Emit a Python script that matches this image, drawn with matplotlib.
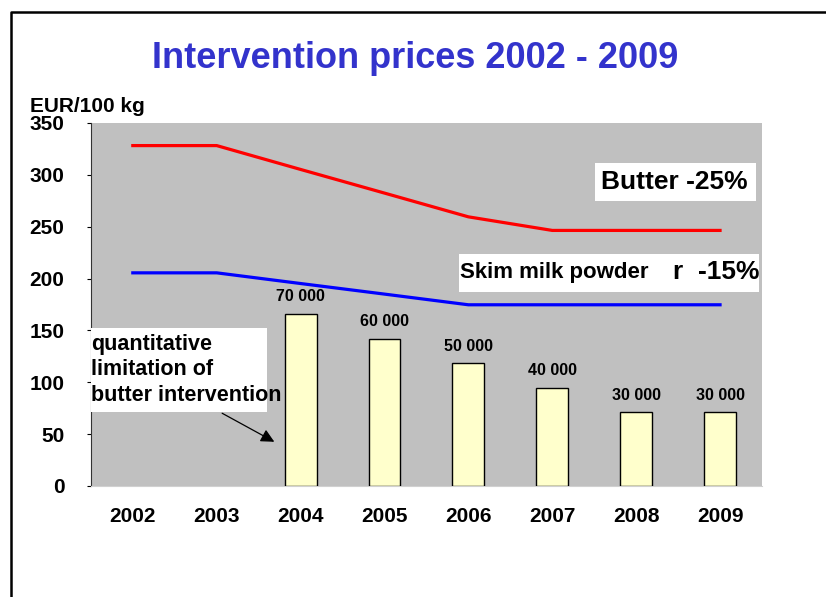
import numpy as np
from matplotlib import pyplot as plt
from matplotlib.lines import Line2D
from matplotlib.patches import Rectangle

plt.rcParams['font.family'] = ['Liberation Sans', 'DejaVu Sans']
plt.rcParams['font.weight'] = 'bold'

years = ['2002', '2003', '2004', '2005', '2006', '2007', '2008', '2009']
butter = [328.2, 328.2, 305.2, 282.4, 259.5, 246.4, 246.4, 246.4]
smp = [205.5, 205.5, 195.2, 185.0, 174.7, 174.7, 174.7, 174.7]
quota_years = ['2004', '2005', '2006', '2007', '2008', '2009']
quota = [70000, 60000, 50000, 40000, 30000, 30000]
quota_labels = ['70 000', '60 000', '50 000', '40 000', '30 000', '30 000']

fig = plt.figure(figsize=(8.26, 5.97), dpi=100)
ax = fig.add_axes([0.110, 0.186, 0.8125, 0.608])
ax.set_facecolor('#C0C0C0')
ax2 = ax.twinx()

xpos = np.arange(len(years))
qpos = [years.index(y) for y in quota_years]

ax2.bar(qpos, quota, 0.38, color='#FFFFCC', edgecolor='black', linewidth=1, zorder=2)
for x, v, lab in zip(qpos, quota, quota_labels):
    ax2.text(x, v + 4000, lab, ha='center', va='bottom', fontsize=11.5, fontweight='bold')
ax2.set_ylim(0, 148000)
ax2.set_yticks([])
for s in ax2.spines.values():
    s.set_visible(False)

ax2.plot(xpos, butter, color='#FF0000', linewidth=2.3, zorder=3, transform=ax.transData)
ax2.plot(xpos, smp, color='#0000FF', linewidth=2.3, zorder=3, transform=ax.transData)

ax.set_xlim(-0.5, 7.5)
ax.set_ylim(0, 350)
ax2.set_xlim(-0.5, 7.5)
ax.set_yticks(range(0, 351, 50))
ax.set_xticks(xpos)
ax.set_xticklabels(years)
ax.tick_params(axis='x', length=0, pad=15, labelsize=15)
ax.tick_params(axis='y', length=3, labelsize=15, pad=16)
for lab in ax.get_xticklabels() + ax.get_yticklabels():
    lab.set_fontweight('bold')
ax.spines['top'].set_visible(False)
ax.spines['right'].set_visible(False)
ax.spines['left'].set_color('#333333')
ax.spines['bottom'].set_color('#D0D0D0')

fig.text(0.503, 0.902, 'Intervention prices 2002 - 2009', ha='center', va='center',
         fontsize=26, fontweight='bold', color='#3333CC')
fig.text(0.036, 0.822, 'EUR/100 kg', ha='left', va='center', fontsize=15, fontweight='bold')

# Butter label
ax2.add_patch(Rectangle((0.751, 0.785), 0.240, 0.105, transform=ax.transAxes,
                        facecolor='white', edgecolor='none', zorder=4))
ax2.text(0.760, 0.837, 'Butter -25%', transform=ax.transAxes, ha='left', va='center',
         fontsize=19, fontweight='bold', zorder=5)

# Skim milk powder label
ax2.add_patch(Rectangle((0.548, 0.534), 0.448, 0.105, transform=ax.transAxes,
                        facecolor='white', edgecolor='none', zorder=4))
ax2.text(0.550, 0.587, 'Skim milk powder', transform=ax.transAxes, ha='left',
         va='center', fontsize=16, fontweight='bold', zorder=5)
ax2.text(0.867, 0.590, 'r  -15%', transform=ax.transAxes, ha='left',
         va='center', fontsize=19, fontweight='bold', zorder=5)

# quantitative limitation note
ax2.add_patch(Rectangle((0.0, 0.204), 0.262, 0.231, transform=ax.transAxes,
                        facecolor='white', edgecolor='none', zorder=4))
ax2.text(0.0, 0.320, 'quantitative\nlimitation of\nbutter intervention', transform=ax.transAxes,
         ha='left', va='center', fontsize=15.5, fontweight='bold', linespacing=1.3, zorder=5)
ax2.annotate('', xy=(0.277, 0.118), xytext=(0.192, 0.204), xycoords='axes fraction',
             arrowprops=dict(arrowstyle='-|>', color='black', lw=0.9, mutation_scale=20), zorder=5)

fig.add_artist(Line2D([0.013, 0.013, 1.0], [0.0, 0.980, 0.980], color='black', lw=1.8,
                      transform=fig.transFigure))

fig.savefig('out.png', dpi=100)
